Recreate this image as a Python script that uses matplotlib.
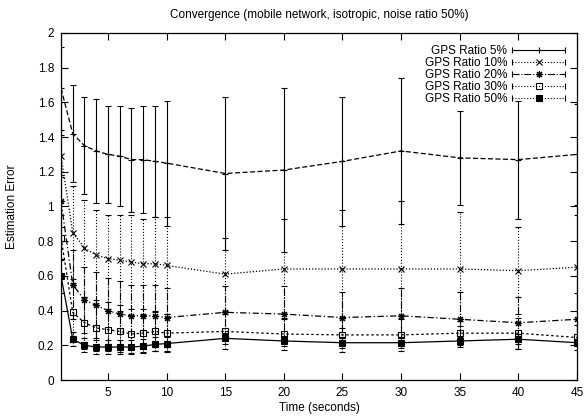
import numpy as np
import matplotlib
matplotlib.use("Agg")
import matplotlib.pyplot as plt
from matplotlib.lines import Line2D
from matplotlib.legend_handler import HandlerLine2D, HandlerTuple

plt.rcParams['font.family'] = ['Liberation Sans', 'DejaVu Sans']

# time steps (seconds)
times = [1, 2, 3, 4, 5, 6, 7, 8, 9, 10, 15, 20, 25, 30, 35, 40, 45]

# mean estimation error and error bar half-width per GPS ratio
err_5 = [1.68, 1.42, 1.35, 1.32, 1.30, 1.29, 1.27, 1.27, 1.26, 1.25, 1.19, 1.21, 1.26, 1.32, 1.28, 1.27, 1.30]
std_5 = [0.24, 0.28, 0.28, 0.30, 0.28, 0.29, 0.30, 0.31, 0.32, 0.36, 0.44, 0.47, 0.37, 0.42, 0.27, 0.34, 0.29]

err_10 = [1.29, 0.85, 0.76, 0.72, 0.70, 0.69, 0.68, 0.67, 0.67, 0.66, 0.61, 0.64, 0.64, 0.64, 0.64, 0.63, 0.65]
std_10 = [0.12, 0.27, 0.28, 0.26, 0.25, 0.26, 0.27, 0.26, 0.27, 0.28, 0.21, 0.29, 0.34, 0.39, 0.33, 0.25, 0.30]

err_20 = [1.03, 0.55, 0.46, 0.43, 0.40, 0.38, 0.37, 0.37, 0.37, 0.36, 0.39, 0.38, 0.36, 0.37, 0.35, 0.33, 0.35]
std_20 = [0.15, 0.20, 0.19, 0.19, 0.19, 0.19, 0.18, 0.18, 0.18, 0.17, 0.15, 0.16, 0.15, 0.16, 0.16, 0.15, 0.15]

err_30 = [0.82, 0.39, 0.33, 0.30, 0.29, 0.28, 0.265, 0.27, 0.28, 0.27, 0.28, 0.265, 0.26, 0.26, 0.27, 0.27, 0.245]
std_30 = [0.13, 0.17, 0.15, 0.13, 0.12, 0.12, 0.11, 0.11, 0.11, 0.11, 0.10, 0.09, 0.10, 0.09, 0.07, 0.09, 0.07]

err_50 = [0.60, 0.235, 0.20, 0.19, 0.19, 0.19, 0.19, 0.195, 0.205, 0.21, 0.24, 0.225, 0.215, 0.215, 0.225, 0.235, 0.215]
std_50 = [0.10, 0.04, 0.04, 0.04, 0.04, 0.04, 0.04, 0.04, 0.04, 0.04, 0.03, 0.03, 0.03, 0.03, 0.02, 0.03, 0.02]

labels = ['GPS Ratio 5%', 'GPS Ratio 10%', 'GPS Ratio 20%', 'GPS Ratio 30%', 'GPS Ratio 50%']

# (line style, error bar style, marker, marker fill, marker size)
styles = [
    ((0, (4, 2)), '-', '+', 'full', 5),
    ((0, (1, 1.5)), ':', 'x', 'full', 4),
    ((0, (5, 2, 1, 2)), '-.', (8, 2, 0), 'full', 5),
    ((0, (2, 2)), ':', 's', 'none', 4.5),
    ('-', ':', 's', 'full', 5),
]

series = [(err_5, std_5), (err_10, std_10), (err_20, std_20), (err_30, std_30), (err_50, std_50)]

fig = plt.figure(figsize=(5.84, 4.17), dpi=100)
ax = fig.add_axes([0.1045, 0.0887, 0.8835, 0.8323])

handles = []
cap_map = {}
for (vals, errs), (ls, els, mk, fill, ms), lab in zip(series, styles, labels):
    eb = ax.errorbar(times, vals, yerr=errs, color='black', linestyle=ls, linewidth=0.9,
                     marker=mk, markersize=ms, fillstyle=fill, markeredgewidth=0.8,
                     elinewidth=0.8, capsize=2, capthick=0.8)
    eb[2][0].set_linestyle(els)
    seg = Line2D([], [], color='black', linestyle=els, linewidth=0.8,
                 marker=mk, markersize=ms, fillstyle=fill, markeredgewidth=0.8)
    caps = Line2D([], [], color='black', linestyle='none', marker='|', markersize=5,
                  markeredgewidth=0.8)
    cap_map[caps] = HandlerLine2D(numpoints=2, marker_pad=0)
    handles.append((seg, caps))

ax.set_xlim(1, 45)
ax.set_ylim(0, 2)
ax.set_xticks(np.arange(5, 46, 5))
yt = np.arange(0, 2.01, 0.2)
ax.set_yticks(yt)
ax.set_yticklabels(['%g' % round(v, 1) for v in yt])
ax.tick_params(direction='in', top=True, right=True, length=5, width=0.8, labelsize=8.5, pad=5)
for sp in ax.spines.values():
    sp.set_linewidth(0.9)

ax.set_title('Convergence (mobile network, isotropic, noise ratio 50%)', fontsize=8.5, pad=11)
ax.set_xlabel('Time (seconds)', fontsize=8.5, labelpad=2)
ax.set_ylabel('Estimation Error', fontsize=8.5, labelpad=14)

hmap = {tuple: HandlerTuple(ndivide=1, pad=0), Line2D: HandlerLine2D(numpoints=1)}
hmap.update(cap_map)
leg = ax.legend(handles, labels, loc='upper right', frameon=False, fontsize=8.5,
                markerfirst=False, handlelength=4.5, handletextpad=0.4,
                labelspacing=0.0, borderaxespad=0.6, handler_map=hmap)
for t in leg.get_texts():
    t.set_ha('right')

fig.savefig('out.png', dpi=100)
